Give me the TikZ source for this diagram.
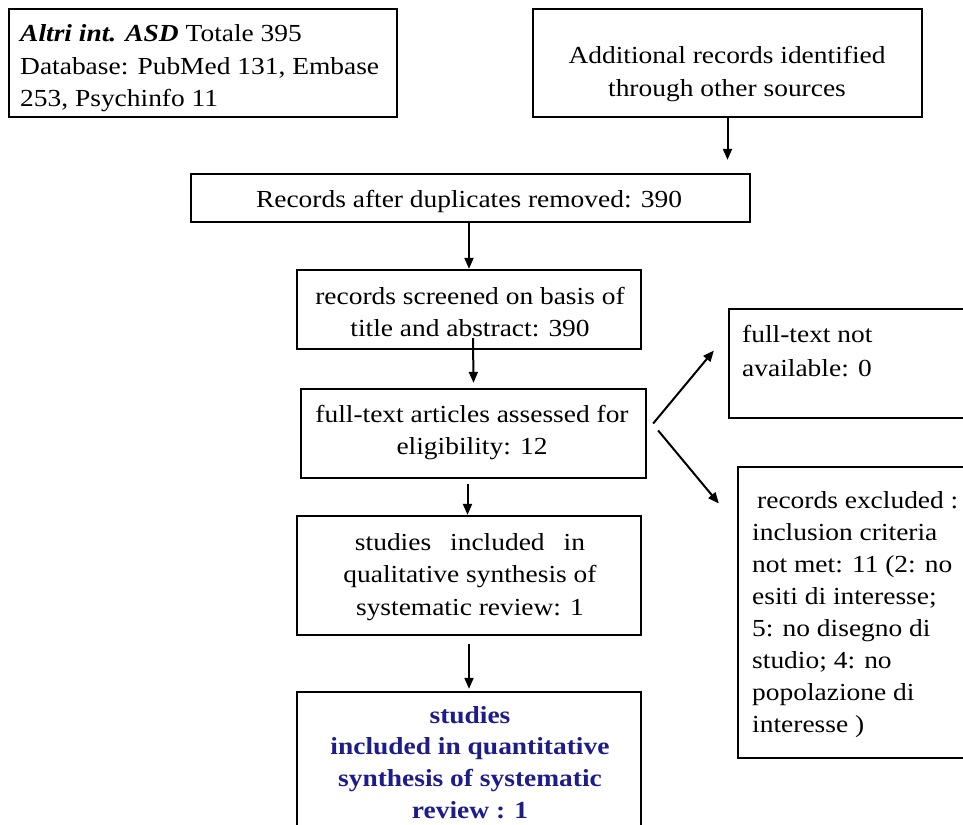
\documentclass[tikz,border=0pt]{standalone}
\usepackage{fontspec}
\setmainfont{Liberation Serif}[FakeStretch=1.12]
\usetikzlibrary{arrows.meta,calc}
\definecolor{navy}{RGB}{28,28,140}
\tikzset{
  box/.style={draw=black, line width=2.3pt, rectangle, inner sep=0pt},
  flowtext/.style={inner sep=0pt, font=\fontsize{24.5}{32.5}\selectfont},
  link/.style={line width=2pt, -{Triangle[length=11pt,width=9pt]}}
}
\begin{document}
\begin{tikzpicture}[x=1pt,y=-1pt]
\clip (0,0) rectangle (963,824);
\fill[white] (0,0) rectangle (963,824);

% frames of the flow chart
\node[box, minimum width=388pt, minimum height=108pt] (src)    at (203,63)      {};
\node[box, minimum width=389pt, minimum height=108pt] (other)  at (727.5,63)    {};
\node[box, minimum width=559pt, minimum height=48pt]  (dedup)  at (470.5,198)   {};
\node[box, minimum width=344pt, minimum height=79pt]  (screen) at (469,309.5)   {};
\node[box, minimum width=345pt, minimum height=89pt]  (elig)   at (473.5,433.5) {};
\node[box, minimum width=344pt, minimum height=119pt] (qual)   at (469,575.5)   {};
\node[box, minimum width=344pt, minimum height=158pt] (quant)  at (469,771)     {};
\node[box, minimum width=261pt, minimum height=109pt] (na)     at (859.5,363.5) {};
\node[box, minimum width=252pt, minimum height=291pt] (excl)   at (864,612.5)   {};

% texts
\node[flowtext, anchor=base west] (srctext) at (20,42)
  {\parbox[t]{380pt}{\raggedright\textbf{\textit{Altri int. ASD}} Totale 395\\Database: PubMed 131, Embase\\253, Psychinfo 11}};
\node[flowtext, anchor=base] (othertext) at (727,64)
  {\parbox[t]{370pt}{\centering Additional records identified\\through other sources}};
\node[flowtext, anchor=base] (deduptext) at (469,207)
  {Records after duplicates removed: 390};
\node[flowtext, anchor=base] (screentext) at (470,304)
  {\parbox[t]{340pt}{\centering records screened on basis of\\title and abstract: 390}};
\node[flowtext, anchor=base] (eligtext) at (472,422)
  {\parbox[t]{340pt}{\centering full-text articles assessed for\\eligibility: 12}};
\node[flowtext, anchor=base] (qualtext) at (470,550)
  {\parbox[t]{340pt}{\centering studies\hspace{19pt}included\hspace{19pt}in\\qualitative synthesis of\\systematic review: 1}};
\node[flowtext, anchor=base, text=navy] (quanttext) at (470,723)
  {\parbox[t]{340pt}{\fontsize{24.5}{31.7}\selectfont\centering\bfseries studies\\included in quantitative\\synthesis of systematic\\review : 1}};
\node[flowtext, anchor=base west] (natext) at (742,342)
  {\parbox[t]{215pt}{\fontsize{24.5}{34}\selectfont\raggedright full-text not\\available: 0}};
\node[flowtext, anchor=base west] (excltext) at (752,508)
  {\parbox[t]{215pt}{\fontsize{24.5}{32.1}\selectfont\raggedright\hspace*{5pt}records excluded :\\inclusion criteria\\not met: 11 (2: no\\esiti di interesse;\\5: no disegno di\\studio; 4: no\\popolazione di\\interesse )}};

% connectors
\draw[link] (other.south) -- ($(other.south |- dedup.north)+(0,-13)$);
\draw[link] (screen.north |- dedup.south) -- (screen.north);
\draw[link] ($(screen.south)+(4,-12)$) -- ($(elig.north)+(0,-5)$);
\draw[link] ($(elig.south)+(-6,5)$) -- ($(qual.north)+(-1.5,0)$);
\draw[link] ($(qual.south)+(0,8)$) -- ($(quant.north)+(0,-2)$);
\draw[link] ($(elig.east)+(6,-10)$) -- ($(na.west)+(-14,-13)$);
\draw[link] ($(elig.east)+(11,-3)$) -- ($(excl.west)+(-18,-109)$);
\end{tikzpicture}
\end{document}
